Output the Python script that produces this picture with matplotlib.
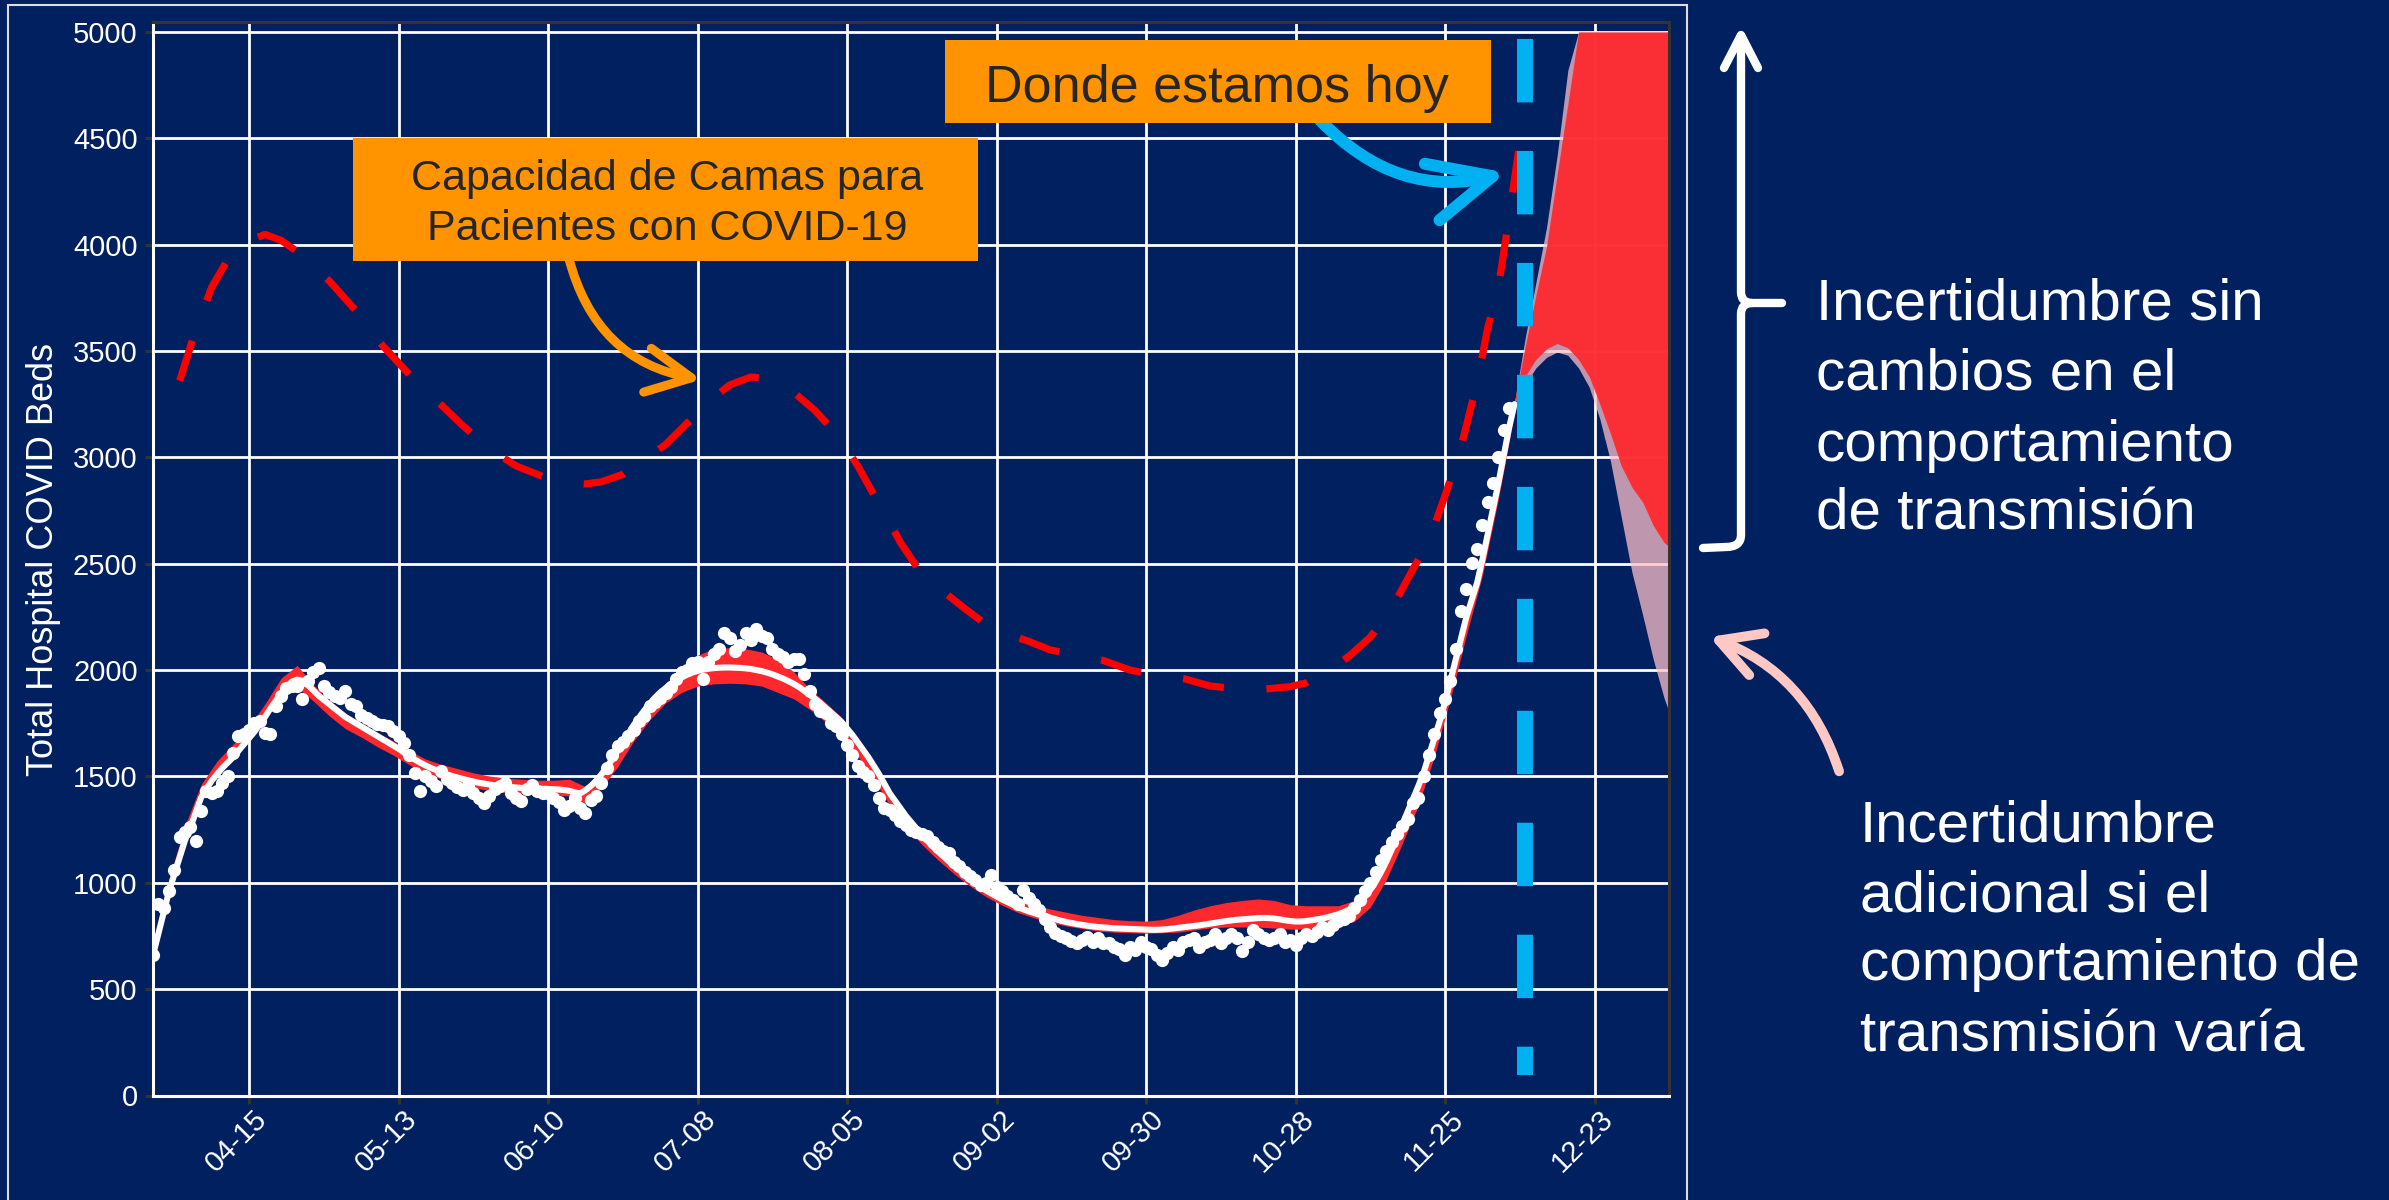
import matplotlib
matplotlib.use('Agg')
import numpy as np
import pandas as pd
import matplotlib.pyplot as plt
import matplotlib.transforms as mtransforms
from matplotlib.patches import Rectangle, FancyArrowPatch, PathPatch
from matplotlib.path import Path

plt.rcParams['font.family'] = ['Liberation Sans', 'DejaVu Sans']

W, H = 2389, 1200
navy = '#002060'
orange = '#FF9300'
sky = '#00B0F0'

# ---- data ----
# daily observed hospital beds, 2020-03-28 .. 2020-12-07
obs_vals = [
    660, 900, 880, 960, 1060, 1215, 1240, 1260, 1195, 1336,
    1430, 1420, 1430, 1470, 1500, 1611, 1689, 1700, 1720, 1752,
    1760, 1705, 1700, 1830, 1878, 1916, 1925, 1925, 1862, 1950,
    1990, 2011, 1925, 1897, 1880, 1870, 1901, 1840, 1831, 1790,
    1776, 1760, 1745, 1740, 1737, 1713, 1690, 1658, 1600, 1517,
    1430, 1500, 1480, 1454, 1525, 1490, 1470, 1450, 1438, 1460,
    1420, 1400, 1376, 1407, 1440, 1455, 1470, 1420, 1400, 1383,
    1440, 1462, 1430, 1420, 1423, 1400, 1380, 1344, 1360, 1400,
    1350, 1329, 1390, 1407, 1470, 1540, 1600, 1642, 1660, 1689,
    1720, 1760, 1784, 1830, 1850, 1870, 1894, 1920, 1960, 1990,
    2000, 2035, 2040, 1956, 2040, 2074, 2100, 2176, 2150, 2090,
    2120, 2176, 2140, 2192, 2160, 2152, 2100, 2074, 2060, 2040,
    2050, 2050, 1980, 1900, 1840, 1807, 1800, 1752, 1737, 1700,
    1650, 1600, 1548, 1520, 1501, 1460, 1400, 1352, 1340, 1320,
    1289, 1270, 1250, 1240, 1230, 1219, 1190, 1170, 1150, 1140,
    1100, 1080, 1050, 1030, 1015, 990, 1000, 1038, 980, 960,
    940, 920, 900, 967, 930, 900, 873, 830, 790, 763,
    750, 740, 725, 716, 730, 745, 720, 740, 716, 716,
    700, 690, 661, 700, 685, 720, 700, 690, 660, 638,
    670, 700, 685, 720, 730, 740, 700, 720, 730, 760,
    716, 740, 760, 740, 677, 720, 779, 760, 740, 732,
    740, 760, 720, 730, 708, 740, 760, 748, 770, 790,
    779, 800, 820, 830, 842, 880, 920, 960, 1000, 1050,
    1108, 1150, 1190, 1230, 1265, 1300, 1375, 1400, 1500, 1600,
    1700, 1800, 1862, 1950, 2100, 2280, 2380, 2505, 2570, 2680,
    2790, 2880, 3000, 3130, 3230]
obs_dates = pd.date_range('2020-03-28', periods=len(obs_vals), freq='D')

# daily model fit (white line), 2020-03-28 .. 2020-12-08
model_vals = [
    660, 760, 860, 960, 1040, 1120, 1200, 1260, 1330, 1400,
    1440, 1480, 1510, 1540, 1565, 1590, 1620, 1650, 1680, 1710,
    1745, 1780, 1820, 1855, 1890, 1920, 1945, 1955, 1950, 1930,
    1905, 1880, 1860, 1840, 1820, 1800, 1780, 1765, 1750, 1735,
    1720, 1705, 1690, 1675, 1660, 1645, 1630, 1612, 1595, 1580,
    1565, 1552, 1540, 1530, 1520, 1510, 1502, 1495, 1488, 1482,
    1476, 1470, 1466, 1462, 1458, 1455, 1452, 1450, 1448, 1446,
    1445, 1444, 1443, 1442, 1441, 1440, 1438, 1436, 1432, 1425,
    1420, 1435, 1455, 1480, 1510, 1545, 1580, 1620, 1660, 1700,
    1740, 1775, 1810, 1840, 1870, 1895, 1915, 1935, 1950, 1965,
    1978, 1988, 1996, 2002, 2006, 2009, 2011, 2012, 2012, 2011,
    2010, 2008, 2005, 2000, 1995, 1988, 1980, 1970, 1960, 1948,
    1935, 1920, 1902, 1884, 1865, 1845, 1822, 1800, 1778, 1755,
    1725, 1695, 1660, 1625, 1590, 1550, 1510, 1465, 1420, 1385,
    1350, 1315, 1285, 1255, 1225, 1198, 1172, 1148, 1125, 1102,
    1080, 1060, 1038, 1018, 998, 980, 964, 950, 936, 922,
    910, 898, 886, 875, 866, 858, 850, 843, 836, 829,
    822, 816, 811, 806, 802, 798, 795, 792, 790, 788,
    786, 785, 784, 783, 782, 781, 780, 779, 779, 780,
    782, 785, 788, 791, 794, 797, 800, 804, 808, 812,
    816, 820, 823, 826, 828, 830, 832, 834, 835, 834,
    832, 828, 824, 820, 818, 818, 820, 824, 828, 832,
    838, 845, 852, 862, 873, 890, 910, 935, 967, 1005,
    1050, 1100, 1156, 1215, 1275, 1335, 1395, 1455, 1520, 1600,
    1680, 1760, 1850, 1950, 2050, 2150, 2250, 2330, 2410, 2520,
    2640, 2760, 2880, 3010, 3140, 3250]
model_dates = pd.date_range('2020-03-28', periods=len(model_vals), freq='D')

# red ribbon around the fit, every 3 days from 2020-03-28
ribbon_lo = [
    640, 940, 1190, 1390, 1500, 1580, 1665, 1770, 1880, 1920,
    1855, 1785, 1725, 1685, 1640, 1600, 1555, 1515, 1488, 1463,
    1448, 1433, 1423, 1418, 1418, 1413, 1408, 1375, 1445, 1545,
    1665, 1765, 1845, 1895, 1925, 1935, 1938, 1935, 1925, 1895,
    1865, 1815, 1755, 1685, 1595, 1485, 1365, 1265, 1180, 1108,
    1043, 985, 935, 895, 860, 835, 815, 797, 785, 773,
    768, 765, 763, 765, 768, 778, 788, 792, 792, 792,
    787, 782, 782, 792, 800, 818, 885, 1015, 1185, 1365,
    1595, 1865, 2165, 2445, 2805, 3210]
ribbon_hi = [
    710, 1020, 1270, 1462, 1572, 1652, 1732, 1842, 1962, 2022,
    1932, 1857, 1797, 1752, 1707, 1667, 1622, 1582, 1557, 1537,
    1517, 1502, 1492, 1487, 1482, 1482, 1487, 1452, 1527, 1637,
    1757, 1857, 1937, 2002, 2070, 2100, 2105, 2100, 2085, 2050,
    1992, 1912, 1847, 1777, 1677, 1567, 1437, 1332, 1242, 1162,
    1097, 1037, 987, 952, 922, 897, 877, 862, 847, 837,
    827, 822, 820, 827, 847, 872, 892, 907, 917, 924,
    917, 897, 892, 892, 892, 917, 987, 1117, 1292, 1472,
    1697, 1967, 2267, 2537, 2897, 3265]
ribbon_dates = pd.date_range('2020-03-28', periods=len(ribbon_lo), freq='3D')

# bed capacity (red dashed)
cap_dates = ['2020-04-02', '2020-04-05', '2020-04-08', '2020-04-11', '2020-04-15',
             '2020-04-18', '2020-04-21', '2020-04-25', '2020-04-30', '2020-05-05',
             '2020-05-10', '2020-05-15', '2020-05-20', '2020-05-25', '2020-05-30',
             '2020-06-04', '2020-06-09', '2020-06-14', '2020-06-17', '2020-06-20',
             '2020-06-24', '2020-06-28', '2020-07-02', '2020-07-06', '2020-07-10',
             '2020-07-14', '2020-07-18', '2020-07-22', '2020-07-26', '2020-07-30',
             '2020-08-03', '2020-08-07', '2020-08-11', '2020-08-15', '2020-08-19',
             '2020-08-23', '2020-08-27', '2020-08-31', '2020-09-04', '2020-09-08',
             '2020-09-12', '2020-09-17', '2020-09-22', '2020-09-27', '2020-10-02',
             '2020-10-07', '2020-10-12', '2020-10-17', '2020-10-22', '2020-10-27',
             '2020-10-30', '2020-11-03', '2020-11-07', '2020-11-11', '2020-11-15',
             '2020-11-19', '2020-11-22', '2020-11-25', '2020-11-28', '2020-12-01',
             '2020-12-03', '2020-12-05', '2020-12-07', '2020-12-09']
cap_vals = [3360, 3600, 3800, 3930, 4020,
            4048, 4020, 3950, 3830, 3690,
            3525, 3390, 3270, 3150, 3040,
            2960, 2910, 2880, 2875, 2885,
            2920, 2990, 3060, 3160, 3260,
            3340, 3378, 3365, 3306, 3220,
            3110, 2960, 2780, 2600, 2450,
            2370, 2290, 2215, 2170, 2135,
            2095, 2070, 2045, 2000, 1975,
            1960, 1925, 1912, 1910, 1922,
            1940, 1995, 2065, 2155, 2290,
            2475, 2610, 2820, 3050, 3350,
            3610, 3800, 4130, 4480]

# projections
proj_dates = ['2020-12-08', '2020-12-10', '2020-12-12', '2020-12-14', '2020-12-16',
              '2020-12-18', '2020-12-20', '2020-12-22', '2020-12-24', '2020-12-26',
              '2020-12-28', '2020-12-30', '2021-01-01', '2021-01-03', '2021-01-05',
              '2021-01-06']
extra_lo = [3255, 3340, 3420, 3470, 3495, 3480, 3420, 3330, 3180, 2980,
            2720, 2460, 2260, 2050, 1870, 1800]
extra_hi = [3260, 3560, 3820, 4080, 4420, 4820, 5000, 5000, 5000, 5000,
            5000, 5000, 5000, 5000, 5000, 5000]
nochange_lo = [3255, 3380, 3460, 3510, 3535, 3515, 3460, 3380, 3250, 3110,
               2960, 2860, 2790, 2680, 2600, 2580]
nochange_hi = [3260, 3520, 3760, 3990, 4330, 4660, 5000, 5000, 5000, 5000,
               5000, 5000, 5000, 5000, 5000, 5000]

today = '2020-12-10'
today_span = [4967, 96]

tick_dates = ['2020-04-15', '2020-05-13', '2020-06-10', '2020-07-08', '2020-08-05',
              '2020-09-02', '2020-09-30', '2020-10-28', '2020-11-25', '2020-12-23']
tick_labels = ['04-15', '05-13', '06-10', '07-08', '08-05',
               '09-02', '09-30', '10-28', '11-25', '12-23']


def fp(x, y):
    # image pixel -> figure fraction
    return (x / W, 1 - y / H)


fig = plt.figure(figsize=(W / 100, H / 100), dpi=100, facecolor=navy)
ax = fig.add_axes([153 / W, (H - 1095.5) / H, 1516.3 / W, 1073.8 / H])
ax.set_facecolor(navy)

red_fill = (1.0, 0.157, 0.176)
ax.fill_between(pd.to_datetime(proj_dates), extra_lo, extra_hi,
                color=(1.0, 0.75, 0.79), alpha=0.75, lw=0, zorder=2)
ax.fill_between(pd.to_datetime(proj_dates), nochange_lo, nochange_hi,
                color=red_fill, alpha=0.94, lw=0, zorder=2.1)

ax.plot(pd.to_datetime(cap_dates), cap_vals, color='#FF0000', lw=5.2,
        ls=(0, (5.8, 5.9)), dash_capstyle='butt', zorder=1.5)

ax.fill_between(ribbon_dates, ribbon_lo, ribbon_hi, color=red_fill,
                lw=0, zorder=2.5)
ax.plot(model_dates, model_vals, color='white', lw=4.4, zorder=3,
        solid_capstyle='round')
ax.plot(obs_dates, obs_vals, 'o', color='white', ms=9.5, mew=0, zorder=3.5)

ax.plot(pd.to_datetime([today, today]), today_span, color=sky, lw=11.5,
        ls=(0, (3.97, 3.04)), dash_capstyle='butt', zorder=4)

ax.set_xlim(pd.Timestamp('2020-03-28'), pd.Timestamp('2021-01-06'))
ax.set_ylim(0, 5048)
ax.set_yticks(np.arange(0, 5001, 500))
ax.set_xticks(pd.to_datetime(tick_dates))
ax.set_xticklabels(tick_labels, rotation=45, ha='right', va='center',
                   rotation_mode='anchor')
ax.grid(True, color='white', lw=2.0)
ax.set_axisbelow(True)
ax.tick_params(axis='both', colors='#333333', length=6, width=2.2,
               labelcolor='white', labelsize=21, pad=5)
ax.tick_params(axis='x', pad=8)
for s in ['left', 'bottom']:
    ax.spines[s].set_color('white')
    ax.spines[s].set_linewidth(2.2)
for s in ['top', 'right']:
    ax.spines[s].set_color('#333333')
    ax.spines[s].set_linewidth(2.2)

offset = mtransforms.ScaledTranslation(10 / 72, 0, fig.dpi_scale_trans)
for lab in ax.get_xticklabels():
    lab.set_transform(lab.get_transform() + offset)

fig.text(*fp(44, 559), 'Total Hospital COVID Beds', rotation=90, ha='center',
         va='center', fontsize=26, color='white')

# outer frame
x0, y0 = fp(8, 1210)
fig.add_artist(Rectangle((x0, y0), 1679 / W, 1205 / H, transform=fig.transFigure,
                         fill=False, edgecolor='#DDDDDD', lw=1.5, zorder=1))

# orange capacity callout
bx0, by0 = fp(353, 260.7)
fig.add_artist(Rectangle((bx0, by0), 624.7 / W, 122.7 / H, transform=fig.transFigure,
                         facecolor=orange, edgecolor='none', zorder=11))
for txt, yb in [('Capacidad de Camas para', 190), ('Pacientes con COVID-19', 240)]:
    fig.text(*fp(667, yb), txt, ha='center', va='baseline', fontsize=31,
             color='#262626', zorder=12)
fig.add_artist(FancyArrowPatch(fp(568, 255), fp(704, 380), transform=fig.transFigure,
                               connectionstyle='arc3,rad=0.33',
                               arrowstyle='->,head_length=32,head_width=16',
                               mutation_scale=1, color=orange, lw=6.5,
                               capstyle='round', joinstyle='round', zorder=10))

# "today" callout
bx0, by0 = fp(944.8, 123.3)
fig.add_artist(Rectangle((bx0, by0), 546 / W, 83.3 / H, transform=fig.transFigure,
                         facecolor=orange, edgecolor='none', zorder=11))
fig.text(*fp(1217, 101.7), 'Donde estamos hoy', ha='center', va='baseline',
         fontsize=37.5, color='#262626', zorder=12)
fig.add_artist(FancyArrowPatch(fp(1318, 118), fp(1509, 172), transform=fig.transFigure,
                               connectionstyle='arc3,rad=0.3',
                               arrowstyle='->,head_length=45,head_width=21',
                               mutation_scale=1, color=sky, lw=8.6,
                               capstyle='round', joinstyle='round', zorder=10))

# white brace with up arrow
verts = [fp(1741, 36), fp(1741, 292), fp(1741, 303), fp(1752, 303), fp(1782, 303),
         fp(1752, 303), fp(1741, 303), fp(1741, 314), fp(1741, 535), fp(1741, 547),
         fp(1726, 547), fp(1703, 548),
         fp(1724, 68), fp(1741, 35), fp(1758, 68)]
codes = [Path.MOVETO, Path.LINETO, Path.CURVE3, Path.CURVE3, Path.LINETO,
         Path.MOVETO, Path.CURVE3, Path.CURVE3, Path.LINETO, Path.CURVE3,
         Path.CURVE3, Path.LINETO,
         Path.MOVETO, Path.LINETO, Path.LINETO]
fig.add_artist(PathPatch(Path(verts, codes), transform=fig.transFigure, fill=False,
                         edgecolor='white', lw=6, capstyle='round',
                         joinstyle='round', zorder=10))

right1 = ['Incertidumbre sin', 'cambios en el', 'comportamiento', 'de transmisión']
for txt, yb in zip(right1, [320, 390, 461, 530]):
    fig.text(*fp(1816, yb), txt, ha='left', va='baseline', fontsize=42, color='white')

right2 = ['Incertidumbre', 'adicional si el', 'comportamiento de', 'transmisión varía']
for txt, yb in zip(right2, [841, 911.6, 980.5, 1051.3]):
    fig.text(*fp(1860, yb), txt, ha='left', va='baseline', fontsize=42, color='white')

fig.add_artist(FancyArrowPatch(fp(1840, 774), fp(1707, 636), transform=fig.transFigure,
                               connectionstyle='arc3,rad=0.25',
                               arrowstyle='->,head_length=29,head_width=16',
                               mutation_scale=1, color='#FFC8C4', lw=7,
                               capstyle='round', joinstyle='round', zorder=10))

fig.savefig('out.png', dpi=100, facecolor=navy)
